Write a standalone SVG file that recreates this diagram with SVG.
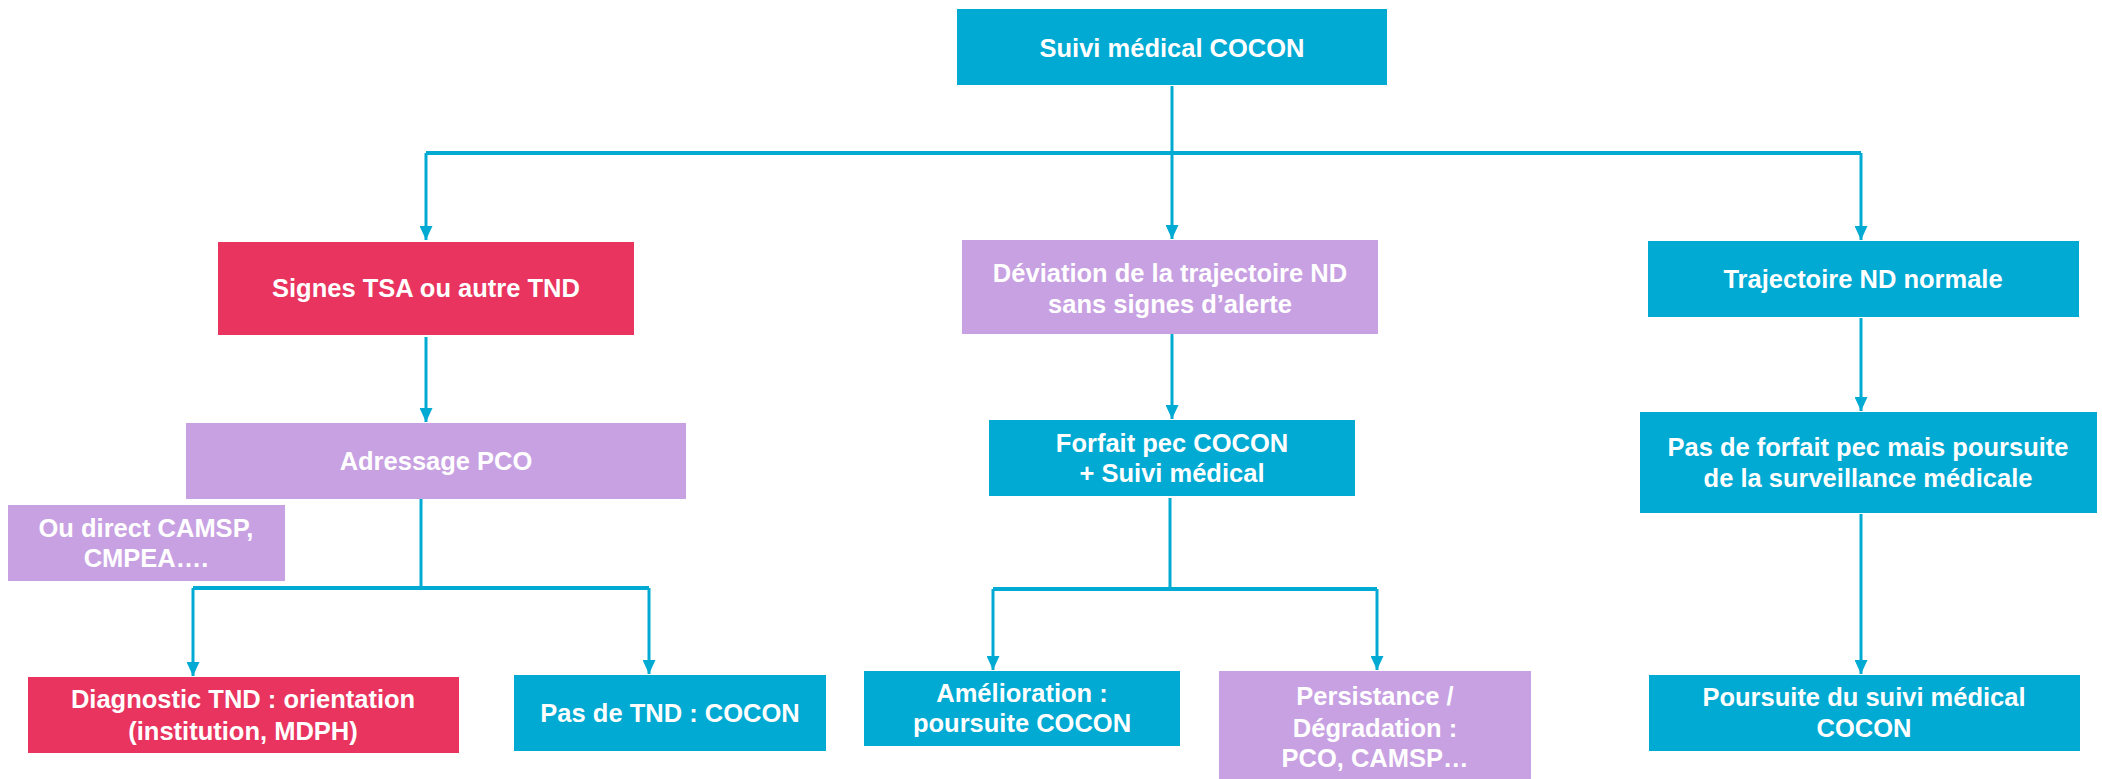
<svg xmlns="http://www.w3.org/2000/svg" width="2102" height="779" viewBox="0 0 2102 779">
<style>
.blue{fill:#00AAD3}
.pink{fill:#E8345E}
.lav{fill:#C8A1E2}
text{font-family:"Liberation Sans",Arial,sans-serif;font-weight:bold;font-size:25.5px;fill:#FFFFFF;text-anchor:middle}
.c{fill:none;stroke:#00AAD3;stroke-width:3}
.h{fill:none;stroke:#00AAD3;stroke-width:4}
</style>
<defs>
<marker id="ah" markerUnits="userSpaceOnUse" markerWidth="14" markerHeight="13" refX="14" refY="6.5" orient="auto">
<path d="M0,0 L14,6.5 L0,13 Z" fill="#00AAD3"/>
</marker>
</defs>
<rect width="2102" height="779" fill="#FFFFFF"/>
<g id="connectors">
<path class="c" d="M1172,86 V153"/>
<path class="h" d="M426,153 H1861"/>
<path class="c" d="M426,153 V240" marker-end="url(#ah)"/>
<path class="c" d="M1172,153 V239" marker-end="url(#ah)"/>
<path class="c" d="M1861,153 V240" marker-end="url(#ah)"/>
<path class="c" d="M426,337 V422" marker-end="url(#ah)"/>
<path class="c" d="M421,499 V588"/>
<path class="h" d="M193,588 H649"/>
<path class="c" d="M193,588 V676" marker-end="url(#ah)"/>
<path class="c" d="M649,588 V674" marker-end="url(#ah)"/>
<path class="c" d="M1172,334 V419" marker-end="url(#ah)"/>
<path class="c" d="M1170,498 V589"/>
<path class="h" d="M993,589 H1377"/>
<path class="c" d="M993,589 V670" marker-end="url(#ah)"/>
<path class="c" d="M1377,589 V670" marker-end="url(#ah)"/>
<path class="c" d="M1861,318 V411" marker-end="url(#ah)"/>
<path class="c" d="M1861,514 V674" marker-end="url(#ah)"/>
</g>
<g id="n-root"><rect class="blue" x="957" y="9" width="430" height="76"/><text x="1172" y="57">Suivi médical COCON</text></g>
<g id="n-signes"><rect class="pink" x="218" y="242" width="416" height="93"/><text x="426" y="297">Signes TSA ou autre TND</text></g>
<g id="n-deviation"><rect class="lav" x="962" y="240" width="416" height="94"/><text x="1170" y="282">Déviation de la trajectoire ND</text><text x="1170" y="313">sans signes d’alerte</text></g>
<g id="n-normale"><rect class="blue" x="1648" y="241" width="431" height="76"/><text x="1863" y="288">Trajectoire ND normale</text></g>
<g id="n-adressage"><rect class="lav" x="186" y="423" width="500" height="76"/><text x="436" y="470">Adressage PCO</text></g>
<g id="n-direct"><rect class="lav" x="8" y="505" width="277" height="76"/><text x="146" y="537">Ou direct CAMSP,</text><text x="146" y="567">CMPEA….</text></g>
<g id="n-forfait"><rect class="blue" x="989" y="420" width="366" height="76"/><text x="1172" y="452">Forfait pec COCON</text><text x="1172" y="482">+ Suivi médical</text></g>
<g id="n-pasforfait"><rect class="blue" x="1640" y="412" width="457" height="101"/><text x="1868" y="456">Pas de forfait pec mais poursuite</text><text x="1868" y="487">de la surveillance médicale</text></g>
<g id="n-diagnostic"><rect class="pink" x="28" y="677" width="431" height="76"/><text x="243" y="708">Diagnostic TND : orientation</text><text x="243" y="740">(institution, MDPH)</text></g>
<g id="n-pastnd"><rect class="blue" x="514" y="675" width="312" height="76"/><text x="670" y="722">Pas de TND : COCON</text></g>
<g id="n-amelioration"><rect class="blue" x="864" y="671" width="316" height="75"/><text x="1022" y="702">Amélioration :</text><text x="1022" y="732">poursuite COCON</text></g>
<g id="n-persistance"><rect class="lav" x="1219" y="671" width="312" height="108"/><text x="1375" y="705">Persistance /</text><text x="1375" y="737">Dégradation :</text><text x="1375" y="767">PCO, CAMSP…</text></g>
<g id="n-poursuite"><rect class="blue" x="1649" y="675" width="431" height="76"/><text x="1864" y="706">Poursuite du suivi médical</text><text x="1864" y="737">COCON</text></g>
</svg>
